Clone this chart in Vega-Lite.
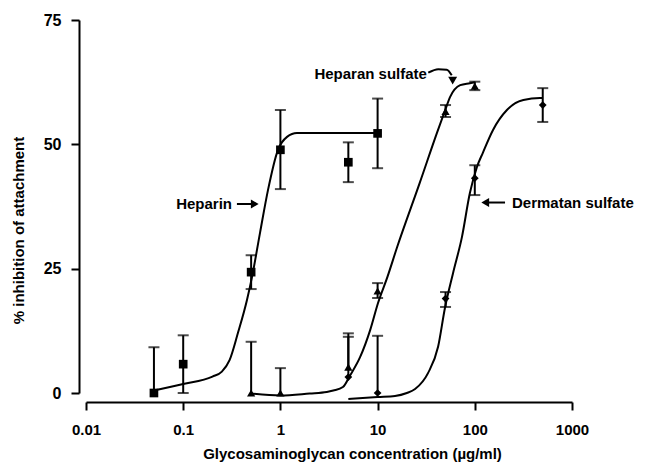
{
  "$schema": "https://vega.github.io/schema/vega-lite/v6.json",
  "width": 486,
  "height": 373,
  "autosize": {"type": "none"},
  "padding": {"left": 86, "top": 20, "right": 73, "bottom": 70},
  "background": "white",
  "config": {
    "view": {"stroke": null},
    "axis": {
      "domainColor": "black", "domainWidth": 2, "tickColor": "black", "tickWidth": 2,
      "labelColor": "black", "titleColor": "black",
      "labelFont": "Liberation Sans", "titleFont": "Liberation Sans",
      "labelFontSize": 15, "titleFontSize": 15,
      "labelFontWeight": "bold", "titleFontWeight": "bold", "grid": false
    }
  },
  "resolve": {
    "axis": {"x": "independent", "y": "independent"},
    "scale": {"shape": "independent", "size": "independent"}
  },
  "datasets": {
    "curves": [
      {"series": "Heparin", "conc": 0.05, "pct": 0.5},
      {"series": "Heparin", "conc": 0.1, "pct": 1.8},
      {"series": "Heparin", "conc": 0.2, "pct": 3.3},
      {"series": "Heparin", "conc": 0.25, "pct": 4.3},
      {"series": "Heparin", "conc": 0.3, "pct": 6.6},
      {"series": "Heparin", "conc": 0.366, "pct": 12.1},
      {"series": "Heparin", "conc": 0.453, "pct": 18.7},
      {"series": "Heparin", "conc": 0.51, "pct": 23.3},
      {"series": "Heparin", "conc": 0.617, "pct": 32.2},
      {"series": "Heparin", "conc": 0.745, "pct": 40.8},
      {"series": "Heparin", "conc": 0.944, "pct": 48.9},
      {"series": "Heparin", "conc": 1.17, "pct": 51.5},
      {"series": "Heparin", "conc": 1.48, "pct": 52.3},
      {"series": "Heparin", "conc": 2.57, "pct": 52.3},
      {"series": "Heparin", "conc": 10, "pct": 52.3},
      {"series": "Heparan sulfate", "conc": 0.5, "pct": -0.1},
      {"series": "Heparan sulfate", "conc": 1, "pct": -0.5},
      {"series": "Heparan sulfate", "conc": 2, "pct": -0.1},
      {"series": "Heparan sulfate", "conc": 3, "pct": 0.2},
      {"series": "Heparan sulfate", "conc": 3.5, "pct": 0.5},
      {"series": "Heparan sulfate", "conc": 4.4, "pct": 1.2},
      {"series": "Heparan sulfate", "conc": 5.2, "pct": 3.5},
      {"series": "Heparan sulfate", "conc": 6.6, "pct": 7.2},
      {"series": "Heparan sulfate", "conc": 8.4, "pct": 12.7},
      {"series": "Heparan sulfate", "conc": 10.1, "pct": 18.1},
      {"series": "Heparan sulfate", "conc": 12.6, "pct": 23.3},
      {"series": "Heparan sulfate", "conc": 15.8, "pct": 29.2},
      {"series": "Heparan sulfate", "conc": 27.3, "pct": 42.4},
      {"series": "Heparan sulfate", "conc": 40.8, "pct": 52.3},
      {"series": "Heparan sulfate", "conc": 49.4, "pct": 56.8},
      {"series": "Heparan sulfate", "conc": 55.6, "pct": 59.5},
      {"series": "Heparan sulfate", "conc": 70.8, "pct": 61.9},
      {"series": "Heparan sulfate", "conc": 89, "pct": 62.3},
      {"series": "Heparan sulfate", "conc": 100, "pct": 62.5},
      {"series": "Dermatan sulfate", "conc": 5, "pct": -1.2},
      {"series": "Dermatan sulfate", "conc": 10, "pct": -0.8},
      {"series": "Dermatan sulfate", "conc": 15.1, "pct": -0.6},
      {"series": "Dermatan sulfate", "conc": 20, "pct": 0},
      {"series": "Dermatan sulfate", "conc": 24.3, "pct": 0.8},
      {"series": "Dermatan sulfate", "conc": 33, "pct": 4.0},
      {"series": "Dermatan sulfate", "conc": 41.9, "pct": 9.3},
      {"series": "Dermatan sulfate", "conc": 49.3, "pct": 17.1},
      {"series": "Dermatan sulfate", "conc": 59.7, "pct": 24.1},
      {"series": "Dermatan sulfate", "conc": 73.8, "pct": 31.4},
      {"series": "Dermatan sulfate", "conc": 89, "pct": 40.2},
      {"series": "Dermatan sulfate", "conc": 105, "pct": 45.4},
      {"series": "Dermatan sulfate", "conc": 121, "pct": 48.3},
      {"series": "Dermatan sulfate", "conc": 154, "pct": 52.9},
      {"series": "Dermatan sulfate", "conc": 214, "pct": 56.9},
      {"series": "Dermatan sulfate", "conc": 316, "pct": 58.9},
      {"series": "Dermatan sulfate", "conc": 468, "pct": 59.3},
      {"series": "Dermatan sulfate", "conc": 500, "pct": 59.3}
    ],
    "points": [
      {"series": "Heparin", "conc": 0.05, "pct": 0, "lo": 0, "hi": 9.2},
      {"series": "Heparin", "conc": 0.1, "pct": 5.8, "lo": 0, "hi": 11.6},
      {"series": "Heparin", "conc": 0.5, "pct": 24.3, "lo": 20.9, "hi": 27.7},
      {"series": "Heparin", "conc": 1, "pct": 48.9, "lo": 41.0, "hi": 56.9},
      {"series": "Heparin", "conc": 5, "pct": 46.4, "lo": 42.4, "hi": 50.4},
      {"series": "Heparin", "conc": 10, "pct": 52.2, "lo": 45.2, "hi": 59.2},
      {"series": "Heparan sulfate", "conc": 0.5, "pct": 0, "lo": 0, "hi": 10.3},
      {"series": "Heparan sulfate", "conc": 1, "pct": 0, "lo": 0, "hi": 5.0},
      {"series": "Heparan sulfate", "conc": 5, "pct": 5.2, "lo": 5.2, "hi": 12.0},
      {"series": "Heparan sulfate", "conc": 10, "pct": 20.5, "lo": 19.1, "hi": 22.1},
      {"series": "Heparan sulfate", "conc": 50, "pct": 56.6, "lo": 55.5, "hi": 57.9},
      {"series": "Heparan sulfate", "conc": 100, "pct": 61.7, "lo": 60.9, "hi": 62.6},
      {"series": "Dermatan sulfate", "conc": 5, "pct": 3.2, "lo": 3.2, "hi": 11.3},
      {"series": "Dermatan sulfate", "conc": 10, "pct": 0, "lo": 0, "hi": 11.5},
      {"series": "Dermatan sulfate", "conc": 50, "pct": 19.0, "lo": 17.3, "hi": 20.3},
      {"series": "Dermatan sulfate", "conc": 100, "pct": 43.2, "lo": 39.8, "hi": 45.8},
      {"series": "Dermatan sulfate", "conc": 500, "pct": 57.9, "lo": 54.5, "hi": 61.3}
    ],
    "notes": [
      {"text": "Heparin", "conc": 0.318, "pct": 38.0},
      {"text": "Heparan sulfate", "conc": 32.2, "pct": 64.1},
      {"text": "Dermatan sulfate", "conc": 241.5, "pct": 38.3}
    ],
    "arrows": [
      {"name": "Heparin", "conc": 0.357, "conc2": 0.53, "pct": 38.0, "pct2": 38.0},
      {"name": "Dermatan sulfate", "conc": 132, "conc2": 204.7, "pct": 38.3, "pct2": 38.3}
    ],
    "curvedArrow": [
      {"conc": 33.2, "pct": 64.4},
      {"conc": 42.1, "pct": 65.1},
      {"conc": 51.4, "pct": 65.0},
      {"conc": 57.9, "pct": 63.9}
    ],
    "heads": [
      {"dir": "right", "conc": 0.545, "pct": 38.0},
      {"dir": "left", "conc": 128, "pct": 38.3},
      {"dir": "down", "conc": 59.2, "pct": 62.8}
    ]
  },
  "layer": [
    {
      "data": {"name": "curves"},
      "mark": {"type": "line", "interpolate": "monotone", "color": "black", "strokeWidth": 2},
      "encoding": {
        "x": {"field": "conc", "type": "quantitative",
          "scale": {"type": "log", "domain": [0.01, 1000], "nice": false},
          "axis": {"values": [0.01, 0.1, 1, 10, 100, 1000], "labelExpr": "'' + datum.value",
            "title": "Glycosaminoglycan concentration (µg/ml)", "offset": 9, "tickSize": 8,
            "labelPadding": 12, "labelFlush": false, "labelOverlap": false,
            "titleX": 266, "titleY": 51, "titleBaseline": "middle", "titleAlign": "center"}},
        "y": {"field": "pct", "type": "quantitative",
          "scale": {"domain": [0, 75], "nice": false, "zero": false},
          "axis": {"values": [0, 25, 50, 75], "title": "% inhibition of attachment", "offset": 7,
            "tickSize": 8, "labelPadding": 10, "labelFontSize": 16, "titleX": -61, "titleY": 210, "titleAngle": -90,
            "titleBaseline": "middle", "titleAlign": "center"}},
        "detail": {"field": "series"}
      }
    },
    {
      "data": {"name": "points"},
      "mark": {"type": "rule", "color": "black", "strokeWidth": 2},
      "encoding": {
        "x": {"field": "conc", "type": "quantitative", "scale": {"type": "log", "domain": [0.01, 1000], "nice": false}, "axis": null},
        "y": {"field": "lo", "type": "quantitative", "scale": {"domain": [0, 75], "nice": false, "zero": false}, "axis": null},
        "y2": {"field": "hi"}
      }
    },
    {
      "data": {"name": "points"},
      "mark": {"type": "tick", "orient": "horizontal", "color": "black", "size": 11, "thickness": 2},
      "encoding": {
        "x": {"field": "conc", "type": "quantitative", "scale": {"type": "log", "domain": [0.01, 1000], "nice": false}, "axis": null},
        "y": {"field": "hi", "type": "quantitative", "scale": {"domain": [0, 75], "nice": false, "zero": false}, "axis": null}
      }
    },
    {
      "data": {"name": "points"},
      "transform": [{"filter": "datum.lo < datum.pct"}],
      "mark": {"type": "tick", "orient": "horizontal", "color": "black", "size": 11, "thickness": 2},
      "encoding": {
        "x": {"field": "conc", "type": "quantitative", "scale": {"type": "log", "domain": [0.01, 1000], "nice": false}, "axis": null},
        "y": {"field": "lo", "type": "quantitative", "scale": {"domain": [0, 75], "nice": false, "zero": false}, "axis": null}
      }
    },
    {
      "data": {"name": "points"},
      "mark": {"type": "point", "filled": true, "color": "black", "opacity": 1},
      "encoding": {
        "x": {"field": "conc", "type": "quantitative", "scale": {"type": "log", "domain": [0.01, 1000], "nice": false}, "axis": null},
        "y": {"field": "pct", "type": "quantitative", "scale": {"domain": [0, 75], "nice": false, "zero": false}, "axis": null},
        "shape": {"field": "series", "type": "nominal", "legend": null,
          "scale": {"domain": ["Heparin", "Heparan sulfate", "Dermatan sulfate"], "range": ["square", "triangle-up", "diamond"]}},
        "size": {"field": "series", "type": "nominal", "legend": null,
          "scale": {"domain": ["Heparin", "Heparan sulfate", "Dermatan sulfate"], "range": [75, 60, 38]}}
      }
    },
    {
      "data": {"name": "notes"},
      "transform": [{"filter": "datum.text != 'Dermatan sulfate'"}],
      "mark": {"type": "text", "align": "right", "baseline": "middle", "font": "Liberation Sans", "fontWeight": "bold", "fontSize": 15, "color": "black"},
      "encoding": {
        "x": {"field": "conc", "type": "quantitative", "scale": {"type": "log", "domain": [0.01, 1000], "nice": false}, "axis": null},
        "y": {"field": "pct", "type": "quantitative", "scale": {"domain": [0, 75], "nice": false, "zero": false}, "axis": null},
        "text": {"field": "text"}
      }
    },
    {
      "data": {"name": "notes"},
      "transform": [{"filter": "datum.text == 'Dermatan sulfate'"}],
      "mark": {"type": "text", "align": "left", "baseline": "middle", "font": "Liberation Sans", "fontWeight": "bold", "fontSize": 15, "color": "black"},
      "encoding": {
        "x": {"field": "conc", "type": "quantitative", "scale": {"type": "log", "domain": [0.01, 1000], "nice": false}, "axis": null},
        "y": {"field": "pct", "type": "quantitative", "scale": {"domain": [0, 75], "nice": false, "zero": false}, "axis": null},
        "text": {"field": "text"}
      }
    },
    {
      "data": {"name": "arrows"},
      "mark": {"type": "rule", "color": "black", "strokeWidth": 2},
      "encoding": {
        "x": {"field": "conc", "type": "quantitative", "scale": {"type": "log", "domain": [0.01, 1000], "nice": false}, "axis": null},
        "x2": {"field": "conc2"},
        "y": {"field": "pct", "type": "quantitative", "scale": {"domain": [0, 75], "nice": false, "zero": false}, "axis": null},
        "y2": {"field": "pct2"}
      }
    },
    {
      "data": {"name": "curvedArrow"},
      "mark": {"type": "line", "interpolate": "monotone", "color": "black", "strokeWidth": 2},
      "encoding": {
        "x": {"field": "conc", "type": "quantitative", "scale": {"type": "log", "domain": [0.01, 1000], "nice": false}, "axis": null},
        "y": {"field": "pct", "type": "quantitative", "scale": {"domain": [0, 75], "nice": false, "zero": false}, "axis": null}
      }
    },
    {
      "data": {"name": "heads"},
      "mark": {"type": "point", "filled": true, "color": "black", "opacity": 1, "size": 80},
      "encoding": {
        "x": {"field": "conc", "type": "quantitative", "scale": {"type": "log", "domain": [0.01, 1000], "nice": false}, "axis": null},
        "y": {"field": "pct", "type": "quantitative", "scale": {"domain": [0, 75], "nice": false, "zero": false}, "axis": null},
        "shape": {"field": "dir", "type": "nominal", "legend": null,
          "scale": {"domain": ["right", "left", "down"], "range": ["triangle-right", "triangle-left", "triangle-down"]}}
      }
    }
  ]
}
